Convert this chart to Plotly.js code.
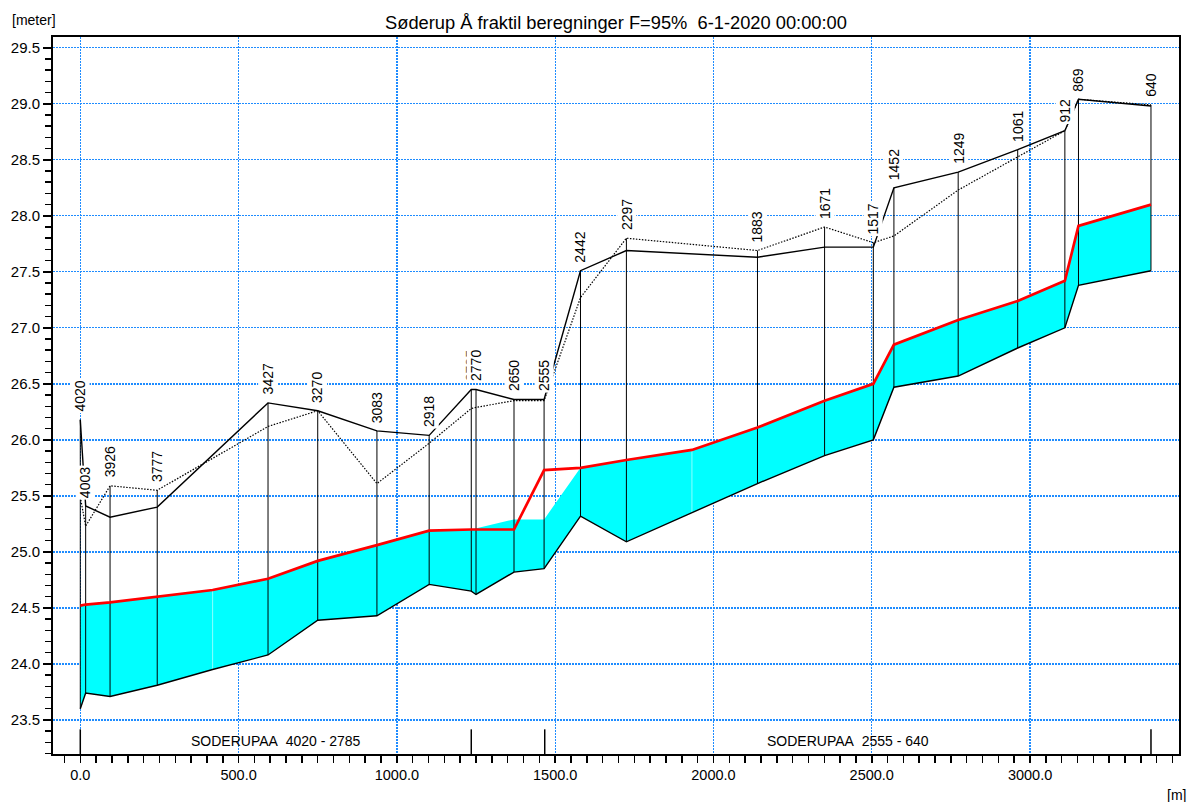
<!DOCTYPE html>
<html><head><meta charset="utf-8">
<script src="https://cdn.plot.ly/plotly-3.0.1.min.js"></script>
<style>html,body{margin:0;padding:0;background:#fff}#chart{width:1190px;height:802px}</style>
</head><body><div id="chart"></div>
<script>
// Cross-sections (name, distance along profile [m], left bank (solid), right bank (dotted))
const xsNames = ['4020','4003','3926','3777','3427','3270','3083','2918','2785','2770','2650','2555','2442','2297','1883','1671','1517','1452','1249','1061','912','869','640'];
const xsDist  = [0,17,94,243,593,750,937,1102,1235,1250,1370,1465,1580,1725,2139,2351,2505,2570,2773,2961,3110,3153,3382];
const leftBank  = [26.18,25.41,25.31,25.40,26.33,26.26,26.08,26.04,26.45,26.45,26.36,26.36,27.51,27.69,27.63,27.72,27.72,28.25,28.39,28.59,28.76,29.04,28.98];
const rightBank = [25.49,25.23,25.59,25.55,26.12,26.26,25.61,25.97,26.28,26.29,26.35,26.35,27.27,27.80,27.69,27.90,27.76,27.82,28.23,28.53,28.76,29.04,28.99];

// Longitudinal profile points (cross-sections + computational points)
const profDist = [0,17,94,243,418,593,750,937,1102,1235,1250,1370,1465,1580,1725,1932,2139,2351,2505,2570,2773,2961,3110,3153,3382];
const bedLevel = [23.60,23.74,23.71,23.81,23.95,24.08,24.39,24.43,24.71,24.65,24.62,24.82,24.85,25.32,25.09,25.35,25.61,25.86,26.00,26.47,26.57,26.82,27.00,27.38,27.51];
const maxWL    = [24.52,24.53,24.55,24.60,24.66,24.76,24.92,25.06,25.19,25.20,25.20,25.20,25.73,25.75,25.82,25.91,26.11,26.35,26.50,26.85,27.07,27.24,27.42,27.91,28.10];
const fillTop  = [24.52,24.53,24.55,24.60,24.66,24.76,24.92,25.06,25.19,25.20,25.21,25.29,25.29,25.75,25.82,25.91,26.11,26.35,26.50,26.85,27.07,27.24,27.42,27.91,28.10];
const compPoints = [418,1932];

// Branches
const branchEnds = [0,1235,1467,3382];
const branchNames = ['SODERUPAA\u00a0\u00a04020 - 2785','SODERUPAA\u00a0\u00a02555 - 640'];
const branchSpans = [[0,1235],[1467,3382]];

const titleText = 'Søderup Å fraktil beregninger F=95%\u00a0\u00a06-1-2020 00:00:00';

function profAt(arr, d){ const i = profDist.indexOf(d); return arr[i]; }

// verticals at cross-sections
const vx = [], vy = [];
xsDist.forEach((d,i)=>{ vx.push(d,d,null); vy.push(profAt(bedLevel,d), Math.max(leftBank[i],rightBank[i]), null); });
const cx = [], cy = [];
compPoints.forEach(d=>{ cx.push(d,d,null); cy.push(profAt(bedLevel,d), profAt(fillTop,d), null); });

const traces = [
  {x:profDist, y:bedLevel, mode:'lines', line:{width:0,color:'rgba(0,0,0,0)'}, hoverinfo:'skip'},
  {x:profDist, y:fillTop, mode:'lines', fill:'tonexty', fillcolor:'rgb(0,255,255)', line:{width:0,color:'rgba(0,0,0,0)'}, hoverinfo:'skip'},
  {x:cx, y:cy, mode:'lines', line:{width:1,color:'rgba(255,255,255,0.55)'}, hoverinfo:'skip'},
  {x:vx, y:vy, mode:'lines', line:{width:1,color:'black'}, hoverinfo:'skip'},
  {x:profDist, y:bedLevel, mode:'lines', line:{width:1.4,color:'black'}},
  {x:xsDist, y:rightBank, mode:'lines', line:{width:1.2,color:'black',dash:'1.5px,1.5px'}},
  {x:xsDist, y:leftBank, mode:'lines', line:{width:1.4,color:'black'}},
  {x:profDist, y:maxWL, mode:'lines', line:{width:2.7,color:'#ff0000'}}
];

const annotations = [];
xsNames.forEach((n,i)=>{
  annotations.push({x:xsDist[i], y:Math.max(leftBank[i],rightBank[i]), xref:'x', yref:'y', text:n, textangle:-90,
    showarrow:false, xanchor:'center', yanchor:'bottom', yshift:6, bgcolor:'white', borderpad:1,
    font:{size:14,color:'#000'}});
});
branchNames.forEach((n,i)=>{
  annotations.push({x:(branchSpans[i][0]+branchSpans[i][1])/2, y:0.018, xref:'x', yref:'paper', text:n,
    showarrow:false, xanchor:'center', yanchor:'middle', font:{size:14,color:'#000'}});
});
annotations.push({x:-0.0382, y:1.0237, xref:'paper', yref:'paper', text:'[meter]', showarrow:false, xanchor:'left', yanchor:'middle', font:{size:14,color:'#000'}});
annotations.push({x:1.008, y:-0.0572, xref:'paper', yref:'paper', text:'[m]', showarrow:false, xanchor:'right', yanchor:'middle', font:{size:14,color:'#000'}});

const shapes = branchEnds.map(d=>({type:'line', xref:'x', yref:'paper', x0:d, x1:d, y0:0, y1:0.0344, line:{color:'black',width:1.5}}));

const gridCol = '#1E8CFF';
const layout = {
  width:1190, height:802,
  margin:{l:53,r:11,t:37,b:48},
  paper_bgcolor:'white', plot_bgcolor:'white',
  font:{family:'Arial, "Liberation Sans", sans-serif', color:'#000'},
  showlegend:false,
  title:{text:titleText, font:{size:18.3,color:'#000'}, x:0.5, xref:'paper', xanchor:'center', y:1-23/802, yref:'container', yanchor:'middle'},
  xaxis:{range:[-86.2,3470.5], tick0:0, dtick:500, tickformat:'.1f', ticks:'outside', ticklen:7, tickwidth:1.5, tickcolor:'black',
    showline:true, linewidth:2, linecolor:'black', mirror:true, showgrid:true, gridcolor:gridCol, gridwidth:1.3, griddash:'2px,1px',
    zeroline:false, tickfont:{size:14.5,color:'#000'},
    minor:{dtick:50, ticks:'outside', ticklen:7, tickwidth:1.5, tickcolor:'black', showgrid:false}},
  yaxis:{range:[23.196,29.596], tick0:23.5, dtick:0.5, tickformat:'.1f', ticks:'outside', ticklen:8, tickwidth:1.5, tickcolor:'black',
    showline:true, linewidth:2, linecolor:'black', mirror:true, showgrid:true, gridcolor:gridCol, gridwidth:1.3, griddash:'2px,1px',
    zeroline:false, tickfont:{size:15,color:'#000'},
    minor:{dtick:0.1, ticks:'outside', ticklen:6, tickwidth:1.5, tickcolor:'black', showgrid:false}},
  annotations:annotations,
  shapes:shapes
};

Plotly.newPlot('chart', traces, layout, {displayModeBar:false, staticPlot:true});
</script>
</body></html>
